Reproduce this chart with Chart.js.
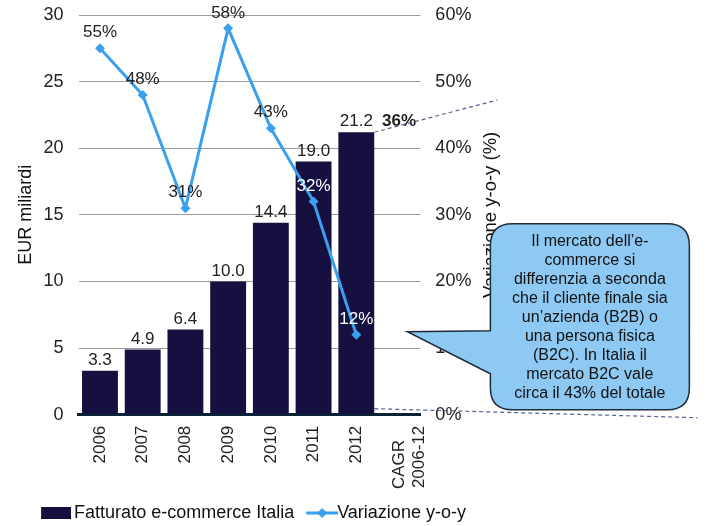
<!DOCTYPE html>
<html>
<head>
<meta charset="utf-8">
<script src="https://cdn.jsdelivr.net/npm/chart.js@4"></script>
<style>
  html, body { margin: 0; padding: 0; background: #fff; }
  #wrap { width: 711px; height: 526px; }
</style>
</head>
<body>
<div id="wrap"><canvas id="myChart" width="711" height="526"></canvas></div>
<script>
// chart data
// (trailing spaces keep "CAGR" aligned with the bottom of "2006-12")
const categories = ['2006', '2007', '2008', '2009', '2010', '2011', '2012', ['CAGR   ', '2006-12']];
const fatturato = [3.3, 4.9, 6.4, 10.0, 14.4, 19.0, 21.2, null];
const variazione = [55, 48, 31, 58, 43, 32, 12, null];
const cagrLabel = '36%';
const leftTicks = [0, 5, 10, 15, 20, 25, 30];
const rightTicks = [0, 10, 20, 30, 40, 50, 60];
const rightTitle = 'Variazione y-o-y (%)';
const calloutLines = [
    'Il mercato dell\u2019e-',
    'commerce si',
    'differenzia a seconda',
    'che il cliente finale sia',
    'un\u2019azienda (B2B) o',
    'una persona fisica',
    '(B2C). In Italia il',
    'mercato B2C vale',
    'circa il 43% del totale'
];

const barColor = '#15103f';
const lineColor = '#3aa0ee';
const font = 'Arial, "Liberation Sans", sans-serif';

// small legend icons, drawn on the right side of the image so they sit near the text
function makeBarIcon() {
    const c = document.createElement('canvas');
    c.width = 36; c.height = 12;
    const g = c.getContext('2d');
    g.fillStyle = barColor;
    g.fillRect(6, 0, 30, 12);
    return c;
}
function makeLineIcon() {
    const c = document.createElement('canvas');
    c.width = 44; c.height = 10;
    const g = c.getContext('2d');
    g.strokeStyle = lineColor;
    g.lineWidth = 3;
    g.beginPath(); g.moveTo(12, 5); g.lineTo(44, 5); g.stroke();
    g.fillStyle = lineColor;
    g.beginPath(); g.moveTo(28, 0); g.lineTo(33, 5); g.lineTo(28, 10); g.lineTo(23, 5); g.closePath(); g.fill();
    return c;
}
const icons = [makeBarIcon(), makeLineIcon()];

// value labels on bars and points
const labelPlugin = {
    id: 'valueLabels',
    afterDatasetsDraw(chart) {
        const ctx = chart.ctx;
        ctx.save();
        ctx.font = '17px ' + font;
        ctx.textAlign = 'center';
        ctx.textBaseline = 'bottom';
        const bars = chart.getDatasetMeta(0).data;
        bars.forEach((bar, i) => {
            if (fatturato[i] == null) return;
            ctx.fillStyle = '#222';
            ctx.fillText(fatturato[i].toFixed(1), bar.x, bar.y - 2);
        });
        // cagr label, bold, next to last bar
        const last = bars[6];
        const cx = chart.scales.x.getPixelForValue(7);
        ctx.font = 'bold 17px ' + font;
        ctx.fillText(cagrLabel, cx, last.y - 2);

        ctx.font = '17px ' + font;
        const pts = chart.getDatasetMeta(1).data;
        pts.forEach((p, i) => {
            if (variazione[i] == null) return;
            // labels sitting on the dark bars are white
            ctx.fillStyle = (i >= 5) ? '#fff' : '#222';
            ctx.fillText(variazione[i] + '%', p.x, p.y - 7);
        });
        ctx.restore();
    }
};

// right title (reads bottom to top), dashed zoom lines and the callout box
const calloutPlugin = {
    id: 'callout',
    afterDraw(chart) {
        const ctx = chart.ctx;
        const area = chart.chartArea;
        const y1 = chart.scales.y1;
        ctx.save();
        ctx.translate(y1.right - 5, (area.top + area.bottom) / 2);
        ctx.rotate(-Math.PI / 2);
        ctx.fillStyle = '#111';
        ctx.font = '18.5px ' + font;
        ctx.textAlign = 'center';
        ctx.textBaseline = 'middle';
        ctx.fillText(rightTitle, 0, 0);
        ctx.restore();

        const bar = chart.getDatasetMeta(0).data[6];
        const bx = bar.x + bar.width / 2;
        ctx.save();
        ctx.strokeStyle = '#55648a';
        ctx.lineWidth = 1.2;
        ctx.setLineDash([4, 3]);
        ctx.beginPath();
        ctx.moveTo(bx, bar.y);
        ctx.lineTo(area.right + 77, area.top + 85);
        ctx.moveTo(bx, area.bottom - 6);
        ctx.lineTo(area.right + 277, area.bottom + 3);
        ctx.stroke();
        ctx.setLineDash([]);

        // box with pointer
        const x0 = area.right + 70, x1 = area.right + 269;
        const y0 = area.bottom - 191, y1b = area.bottom - 5;
        const r = 22;
        const tipX = area.right - 13, tipY = area.bottom - 83;
        ctx.beginPath();
        ctx.moveTo(x0 + r, y0);
        ctx.lineTo(x1 - r, y0);
        ctx.quadraticCurveTo(x1, y0, x1, y0 + r);
        ctx.lineTo(x1, y1b - r);
        ctx.quadraticCurveTo(x1, y1b, x1 - r, y1b);
        ctx.lineTo(x0 + r, y1b);
        ctx.quadraticCurveTo(x0, y1b, x0, y1b - r);
        ctx.lineTo(x0, tipY + 42);
        ctx.lineTo(tipX, tipY);
        ctx.lineTo(x0, tipY - 1);
        ctx.lineTo(x0, y0 + r);
        ctx.quadraticCurveTo(x0, y0, x0 + r, y0);
        ctx.closePath();
        ctx.fillStyle = '#8ec9f4';
        ctx.fill();
        ctx.strokeStyle = '#1e2b38';
        ctx.lineWidth = 1.5;
        ctx.stroke();

        ctx.fillStyle = '#111';
        ctx.font = '16px ' + font;
        ctx.textAlign = 'center';
        ctx.textBaseline = 'middle';
        const midX = (x0 + x1) / 2;
        calloutLines.forEach((t, i) => {
            ctx.fillText(t, midX, y0 + 18 + i * 19);
        });
        ctx.restore();
    }
};

const ctx = document.getElementById('myChart').getContext('2d');
new Chart(ctx, {
    data: {
        labels: categories,
        datasets: [{
            type: 'bar',
            label: 'Fatturato e-commerce Italia',
            data: fatturato,
            backgroundColor: barColor,
            yAxisID: 'y',
            order: 1,
            barPercentage: 0.84,
            categoryPercentage: 1
        }, {
            type: 'line',
            label: 'Variazione y-o-y',
            data: variazione,
            borderColor: lineColor,
            backgroundColor: lineColor,
            borderWidth: 3,
            pointStyle: 'rectRot',
            pointRadius: 5,
            pointBorderWidth: 0,
            yAxisID: 'y1',
            order: 0,
            tension: 0
        }]
    },
    options: {
        responsive: false,
        animation: false,
        layout: { padding: { left: 11, right: 215, top: 15, bottom: -6 } },
        plugins: {
            tooltip: { enabled: false },
            legend: {
                position: 'bottom',
                labels: {
                    usePointStyle: true,
                    pointStyleWidth: 24,
                    color: '#111',
                    font: { family: font, size: 18 },
                    padding: 10,
                    sort: (a, b) => a.datasetIndex - b.datasetIndex,
                    generateLabels(chart) {
                        const items = Chart.defaults.plugins.legend.labels.generateLabels(chart);
                        items.forEach(it => { it.pointStyle = icons[it.datasetIndex]; });
                        return items;
                    }
                }
            }
        },
        scales: {
            x: {
                grid: { display: true, drawOnChartArea: false, drawTicks: false },
                border: { display: true, color: '#0c2236', width: 3 },
                afterFit(scale) { scale.height -= 6; },
                ticks: {
                    color: '#222',
                    font: { family: font, size: 17 },
                    minRotation: 90,
                    maxRotation: 90,
                    autoSkip: false,
                    padding: 11
                }
            },
            y: {
                position: 'left',
                min: 0, max: 30,
                afterBuildTicks(scale) { scale.ticks = leftTicks.map(v => ({ value: v })); },
                grid: { color: '#9a9a9a', lineWidth: 1, drawTicks: true, tickLength: 12, tickColor: 'rgba(0,0,0,0)' },
                border: { display: false },
                ticks: { color: '#222', font: { family: font, size: 18 }, padding: 3 },
                title: { display: true, text: 'EUR miliardi', color: '#111', font: { family: font, size: 18 }, padding: 4 }
            },
            y1: {
                position: 'right',
                min: 0, max: 60,
                afterBuildTicks(scale) { scale.ticks = rightTicks.map(v => ({ value: v })); },
                grid: { display: false, drawTicks: true, tickLength: 12 },
                border: { display: false },
                ticks: { color: '#222', font: { family: font, size: 18 }, padding: 3, callback: v => v + '%' },
                // space kept for the title, drawn by the plugin so it reads upward
                title: { display: true, text: rightTitle, color: 'rgba(0,0,0,0)', font: { family: font, size: 18 }, padding: 0 }
            }
        }
    },
    plugins: [labelPlugin, calloutPlugin]
});
</script>
</body>
</html>
